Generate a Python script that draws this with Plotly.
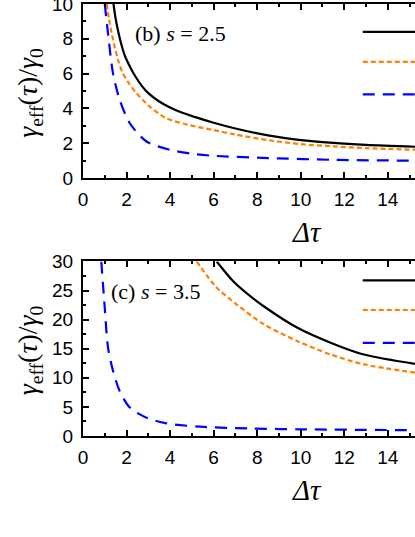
import plotly.graph_objects as go
from plotly.subplots import make_subplots

# panel (b), s = 2.5
b_black_x = [1.40, 1.5, 1.63, 1.8, 1.94, 2.2, 2.4, 2.7, 3.0, 3.5, 3.93, 4.5, 5.16, 6.0, 7.0, 8.5, 10.0, 11.5, 13.0, 15.25]
b_black_y = [10.0, 9.15, 8.35, 7.5, 6.97, 6.3, 5.85, 5.3, 4.88, 4.4, 4.1, 3.78, 3.5, 3.18, 2.85, 2.45, 2.18, 2.02, 1.91, 1.8]
b_orange_x = [1.09, 1.2, 1.32, 1.5, 1.63, 1.8, 2.05, 2.46, 3.07, 3.8, 4.85, 6.0, 7.0, 8.5, 10.0, 11.5, 13.0, 15.25]
b_orange_y = [10.0, 9.1, 8.3, 7.3, 6.7, 6.1, 5.55, 4.87, 4.1, 3.45, 3.05, 2.76, 2.5, 2.18, 1.95, 1.82, 1.72, 1.63]
b_blue_x = [1.0, 1.15, 1.38, 1.69, 2.15, 2.92, 4.0, 5.0, 6.0, 8.5, 11.5, 15.25]
b_blue_y = [10.0, 8.3, 6.0, 4.49, 3.15, 2.1, 1.62, 1.4, 1.28, 1.15, 1.05, 1.0]

# panel (c), s = 3.5
c_black_x = [6.14, 6.9, 7.5, 8.3, 9.85, 11.4, 12.9, 15.25]
c_black_y = [30.0, 26.6, 24.6, 22.3, 18.6, 16.0, 14.0, 12.4]
c_orange_x = [5.22, 6.14, 7.06, 8.31, 9.85, 11.38, 12.92, 15.25]
c_orange_y = [30.0, 25.5, 22.6, 19.2, 16.3, 14.0, 12.3, 10.9]
c_blue_x = [0.84, 1.0, 1.15, 1.38, 1.69, 2.15, 2.92, 3.84, 5.38, 7.6, 10.0, 15.25]
c_blue_y = [30.0, 22.0, 15.2, 11.2, 7.7, 4.9, 3.15, 2.17, 1.6, 1.3, 1.15, 1.0]

x_ticks = [0, 2, 4, 6, 8, 10, 12, 14]

BLACK = "black"
ORANGE = "#ff8000"
BLUE = "#0000ff"
styles = [
    (BLACK, "solid"),
    (ORANGE, "5px,3px"),
    (BLUE, "12px,8px"),
]

fig = make_subplots(rows=2, cols=1, vertical_spacing=0.0)

panels = [
    (1, [(b_black_x, b_black_y), (b_orange_x, b_orange_y), (b_blue_x, b_blue_y)]),
    (2, [(c_black_x, c_black_y), (c_orange_x, c_orange_y), (c_blue_x, c_blue_y)]),
]
for row, curves in panels:
    for (xs, ys), (col, dash) in zip(curves, styles):
        fig.add_trace(go.Scatter(x=xs, y=ys, mode="lines", line_shape="spline",
                                 line=dict(color=col, width=2.2, dash=dash, smoothing=0.8),
                                 showlegend=False, cliponaxis=True), row=row, col=1)

tickfont = dict(family="Liberation Sans, Arial", size=19, color="black")
axis_common = dict(showline=True, linewidth=2, linecolor="black", ticks="inside",
                   ticklen=6, tickwidth=1.5, tickcolor="black", showgrid=False,
                   zeroline=False, tickfont=tickfont, automargin=False,
                   ticklabeloverflow="allow")

for row in (1, 2):
    fig.update_xaxes(range=[0, 15.25], tickvals=x_ticks, mirror="allticks",
                     minor=dict(dtick=1, ticks="inside", ticklen=3, tickwidth=1.5,
                                tickcolor="black", showgrid=False),
                     ticklabelstandoff=3, row=row, col=1, **axis_common)

fig.update_yaxes(range=[0, 10], dtick=2, minor=dict(dtick=1, ticks="inside", ticklen=3,
                 tickwidth=1.5, tickcolor="black", showgrid=False),
                 ticklabelstandoff=4, row=1, col=1, **axis_common)
fig.update_yaxes(range=[0, 30], dtick=5, minor=dict(dtick=2.5, ticks="inside", ticklen=3,
                 tickwidth=1.5, tickcolor="black", showgrid=False),
                 ticklabelstandoff=4, row=2, col=1, **axis_common)

fig.update_layout(
    width=415, height=537,
    margin=dict(l=83, r=0, t=4, b=100.5),
    plot_bgcolor="white", paper_bgcolor="white",
    xaxis=dict(domain=[0, 1]), yaxis=dict(domain=[0.597, 1]),
    xaxis2=dict(domain=[0, 1]), yaxis2=dict(domain=[0, 0.404]),
)

serif = dict(family="Liberation Serif, Times New Roman", color="black")
ytitle = "<i>γ</i><sub>eff</sub>(<i>τ</i>)/<i>γ</i><sub>0</sub>"
for yc in (0.794, 0.198):
    fig.add_annotation(x=-0.16, y=yc, xref="paper", yref="paper", text=ytitle,
                       xanchor="center", yanchor="middle", textangle=-90,
                       showarrow=False, font=dict(size=28, **serif))
for yc in (0.473, -0.124):
    fig.add_annotation(x=0.675, y=yc, xref="paper", yref="paper", text="<i>Δτ</i>",
                       xanchor="center", yanchor="middle", showarrow=False,
                       font=dict(size=29, **serif))

fig.add_annotation(x=2.3, y=8.33, xref="x", yref="y", text="(b) <i>s</i> = 2.5",
                   xanchor="left", yanchor="middle", showarrow=False,
                   font=dict(size=22, **serif))
fig.add_annotation(x=1.2, y=24.8, xref="x2", yref="y2", text="(c) <i>s</i> = 3.5",
                   xanchor="left", yanchor="middle", showarrow=False,
                   font=dict(size=22, **serif))

# legend keys (labels fall outside the cropped figure)
key_rows = [("x", "y", [8.4, 6.68, 4.81]), ("x2", "y2", [26.75, 21.66, 16.0])]
for xr, yr, ys in key_rows:
    for yk, (col, dash) in zip(ys, styles):
        fig.add_shape(type="line", xref=xr, yref=yr, x0=12.85, x1=15.3, y0=yk, y1=yk,
                      line=dict(color=col, width=2.2, dash=dash))

fig.write_html("out.html", config={"displayModeBar": False})

# drop the browser's default page margin so the figure sits at the corner
with open("out.html") as f:
    html = f.read()
html = html.replace("<body>", '<body style="margin:0;overflow:hidden">', 1)
with open("out.html", "w") as f:
    f.write(html)
